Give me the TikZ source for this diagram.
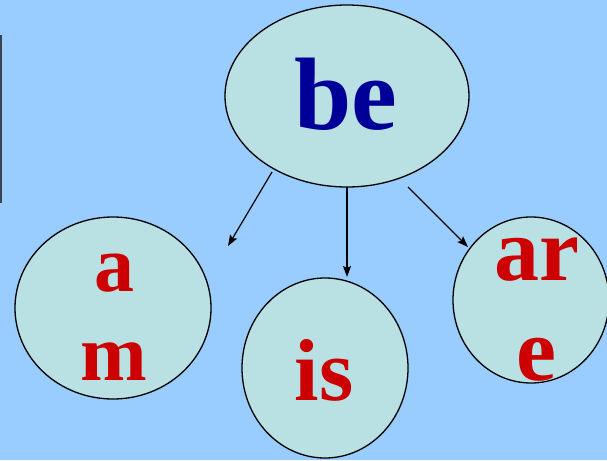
\documentclass[tikz,border=0pt]{standalone}
\usepackage{fontspec}
\setmainfont{Liberation Serif}
\usetikzlibrary{arrows.meta,shapes.geometric}
\definecolor{bg}{HTML}{99CCFF}
\definecolor{cell}{HTML}{B9E0E3}
\definecolor{darkblue}{HTML}{000099}
\definecolor{wordred}{HTML}{CC0000}
\definecolor{edgegray}{HTML}{3A4350}
\begin{document}
\begin{tikzpicture}[x=1pt,y=-1pt,
  bubble/.style={ellipse, draw=black, line width=1.3pt, fill=cell, inner sep=0pt},
  word/.style={anchor=base, inner sep=0pt, text=wordred},
  link/.style={line width=1.2pt, -{Stealth[length=11pt,width=8pt,inset=2pt]}}]
\fill[bg] (0,0) rectangle (607,460);
\useasboundingbox (0,0) rectangle (607,460);
\draw[edgegray, line width=1.6pt] (0.8,35) -- (0.8,203);
% bubbles
\node[bubble, minimum width=244pt, minimum height=182pt] (be) at (347,96) {};
\node[bubble, minimum width=196pt, minimum height=182pt] (am) at (113,308) {};
\node[bubble, minimum width=166pt, minimum height=180pt] (is) at (325,368) {};
\node[bubble, minimum width=156pt, minimum height=166pt] (are) at (531,300) {};
% words
\node[word, text=darkblue, font=\fontsize{103}{103}\selectfont\bfseries] (tbe) at (345.5,129) {be};
\node[word, font=\fontsize{80}{80}\selectfont\bfseries] (ta) at (114,291) {a};
\node[word, font=\fontsize{80}{80}\selectfont\bfseries] (tm) at (114,380) {m};
\node[word, font=\fontsize{88}{88}\selectfont\bfseries] (tis) at (324,400) {is};
\node[word, font=\fontsize{90}{90}\selectfont\bfseries] (tar) at (537,280) {ar};
\node[word, font=\fontsize{90}{90}\selectfont\bfseries] (te) at (536.5,380) {e};
% arrows
\coordinate (s1) at (272,172);
\coordinate (s2) at (347,187);
\coordinate (s3) at (408,187);
\coordinate (t1) at (228,246);
\coordinate (t2) at (347,277);
\coordinate (t3) at (468,247);
\draw[link] (s1) -- (t1);
\draw[link] (s2) -- (t2);
\draw[link] (s3) -- (t3);
\end{tikzpicture}
\end{document}
